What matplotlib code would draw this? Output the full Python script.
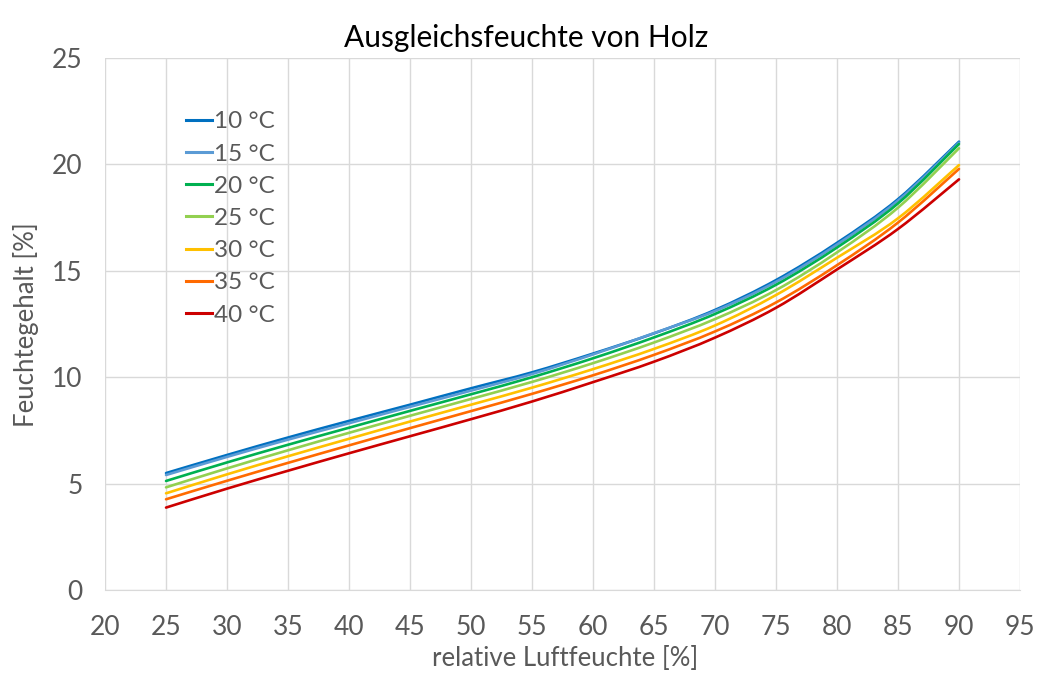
import matplotlib
matplotlib.use("Agg")
import matplotlib.pyplot as plt
from matplotlib.path import Path
from matplotlib.patches import PathPatch
from matplotlib.lines import Line2D

plt.rcParams['font.family'] = ['Lato', 'DejaVu Sans']

# relative Luftfeuchte [%]
rh = [25, 30, 35, 40, 45, 50, 55, 60, 65, 70, 75, 80, 85, 90]

# Feuchtegehalt [%] je Temperatur
emc_10 = [5.49, 6.34, 7.16, 7.94, 8.70, 9.47, 10.22, 11.10, 12.05, 13.15, 14.55, 16.30, 18.35, 21.05]
emc_15 = [5.40, 6.25, 7.06, 7.83, 8.60, 9.36, 10.14, 11.06, 12.06, 13.10, 14.47, 16.22, 18.28, 21.00]
emc_20 = [5.12, 5.99, 6.82, 7.62, 8.41, 9.19, 9.99, 10.88, 11.86, 12.96, 14.33, 16.08, 18.15, 20.94]
emc_25 = [4.82, 5.71, 6.56, 7.38, 8.18, 8.97, 9.77, 10.65, 11.62, 12.72, 14.08, 15.85, 17.95, 20.74]
emc_30 = [4.54, 5.43, 6.28, 7.10, 7.91, 8.70, 9.50, 10.37, 11.32, 12.42, 13.85, 15.60, 17.45, 19.95]
emc_35 = [4.26, 5.13, 5.97, 6.79, 7.60, 8.40, 9.21, 10.08, 11.04, 12.14, 13.50, 15.25, 17.25, 19.77]
emc_40 = [3.87, 4.76, 5.60, 6.42, 7.22, 8.02, 8.85, 9.76, 10.72, 11.85, 13.25, 15.05, 16.95, 19.28]

series = [
    ("10 °C", emc_10, "#0070C0"),
    ("15 °C", emc_15, "#5B9BD5"),
    ("20 °C", emc_20, "#00B050"),
    ("25 °C", emc_25, "#92D050"),
    ("30 °C", emc_30, "#FFC000"),
    ("35 °C", emc_35, "#FF6A00"),
    ("40 °C", emc_40, "#CC0000"),
]

text_color = "#595959"
grid_color = "#D9D9D9"


def smooth_path(x, y):
    # Excel-artige geglaettete Linie (Bezier durch die Datenpunkte)
    verts = [(x[0], y[0])]
    codes = [Path.MOVETO]
    n = len(x)
    for i in range(n - 1):
        x0, y0 = (x[i - 1], y[i - 1]) if i > 0 else (x[i], y[i])
        x3, y3 = (x[i + 2], y[i + 2]) if i + 2 < n else (x[i + 1], y[i + 1])
        c1 = (x[i] + (x[i + 1] - x0) / 6, y[i] + (y[i + 1] - y0) / 6)
        c2 = (x[i + 1] - (x3 - x[i]) / 6, y[i + 1] - (y3 - y[i]) / 6)
        verts += [c1, c2, (x[i + 1], y[i + 1])]
        codes += [Path.CURVE4] * 3
    return Path(verts, codes)


fig = plt.figure(figsize=(10.37, 6.75), dpi=100)
ax = fig.add_axes([0.1013, 0.1259, 0.8823, 0.7889])

handles = []
for label, values, color in series:
    ax.add_patch(PathPatch(smooth_path(rh, values), facecolor="none",
                           edgecolor=color, linewidth=1.9, capstyle="round"))
    handles.append(Line2D([], [], color=color, linewidth=2.2, label=label))

ax.set_xlim(20, 95)
ax.set_ylim(0, 25)
ax.set_xticks(range(20, 96, 5))
ax.set_yticks(range(0, 26, 5))
ax.grid(True, color=grid_color, linewidth=1)
ax.set_axisbelow(True)
for side in ["top", "right", "left"]:
    ax.spines[side].set_visible(False)
ax.spines["bottom"].set_color(grid_color)
ax.tick_params(axis="x", length=0, labelsize=19, labelcolor=text_color, pad=18)
ax.tick_params(axis="y", length=0, labelsize=19, labelcolor=text_color, pad=16)

ax.set_xlabel("relative Luftfeuchte [%]", fontsize=18.5, color=text_color)
ax.set_ylabel("Feuchtegehalt [%]", fontsize=18.5, color=text_color)
ax.xaxis.set_label_coords(0.503, -0.105)
ax.yaxis.set_label_coords(-0.072, 0.498)

fig.text(0.507, 0.944, "Ausgleichsfeuchte von Holz", ha="center", va="center",
         fontsize=21.5, color="black")

ax.legend(handles=handles, loc="upper left", bbox_to_anchor=(0.065, 0.94),
          frameon=False, fontsize=17.5, handlelength=1.05, handletextpad=0.1,
          labelspacing=0.46, labelcolor=text_color)

fig.savefig("out.png", dpi=100, facecolor="white")
